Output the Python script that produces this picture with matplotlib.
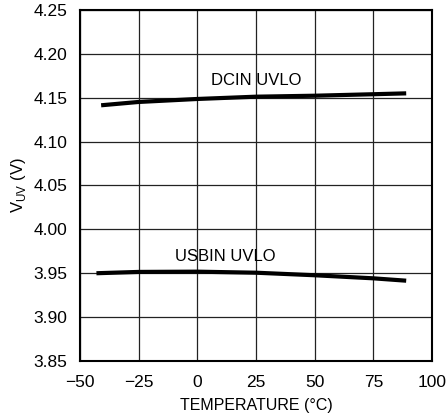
import matplotlib
matplotlib.use("Agg")
import numpy as np
from matplotlib import pyplot as plt

plt.rcParams['font.family'] = ['Liberation Sans', 'DejaVu Sans']

# DCIN UVLO threshold vs temperature
dcin_t = [-41, -25, 0, 25, 50, 75, 89]
dcin_v = [4.1414, 4.1452, 4.1486, 4.1512, 4.1523, 4.1540, 4.1550]

# USBIN UVLO threshold vs temperature
usb_t = [-43, -25, 0, 25, 50, 75, 89]
usb_v = [3.9500, 3.9515, 3.9518, 3.9506, 3.9477, 3.9442, 3.9415]

xticks = [-50, -25, 0, 25, 50, 75, 100]
xlabels = ["\u221250", "\u221225", "0", "25", "50", "75", "100"]
yticks = [3.85, 3.90, 3.95, 4.00, 4.05, 4.10, 4.15, 4.20, 4.25]

fig = plt.figure(figsize=(4.48, 4.18), dpi=100)
ax = fig.add_axes([0.1786, 0.1364, 0.7857, 0.8397])

ax.plot(dcin_t, dcin_v, color="black", lw=3, solid_capstyle="butt")
ax.plot(usb_t, usb_v, color="black", lw=3, solid_capstyle="butt")

ax.text(25, 4.170, "DCIN UVLO", ha="center", va="center", fontsize=12)
ax.text(12, 3.969, "USBIN UVLO", ha="center", va="center", fontsize=12)

ax.set_xlim(-50, 100)
ax.set_ylim(3.85, 4.25)
ax.set_xticks(xticks)
ax.set_xticklabels(xlabels)
ax.set_yticks(yticks)
ax.set_yticklabels([f"{v:.2f}" for v in yticks])
ax.tick_params(length=0, labelsize=12.5)
ax.tick_params(axis="x", pad=10)
ax.tick_params(axis="y", pad=9)
ax.grid(True, color="#222222", lw=0.9)
for s in ax.spines.values():
    s.set_linewidth(1.5)

ax.set_xlabel("TEMPERATURE (\u00b0C)", fontsize=11.5, labelpad=6)
ax.set_ylabel(r"V$_{\mathregular{UV}}$ (V)", fontsize=12, labelpad=4)

fig.savefig("out.png", dpi=100)
